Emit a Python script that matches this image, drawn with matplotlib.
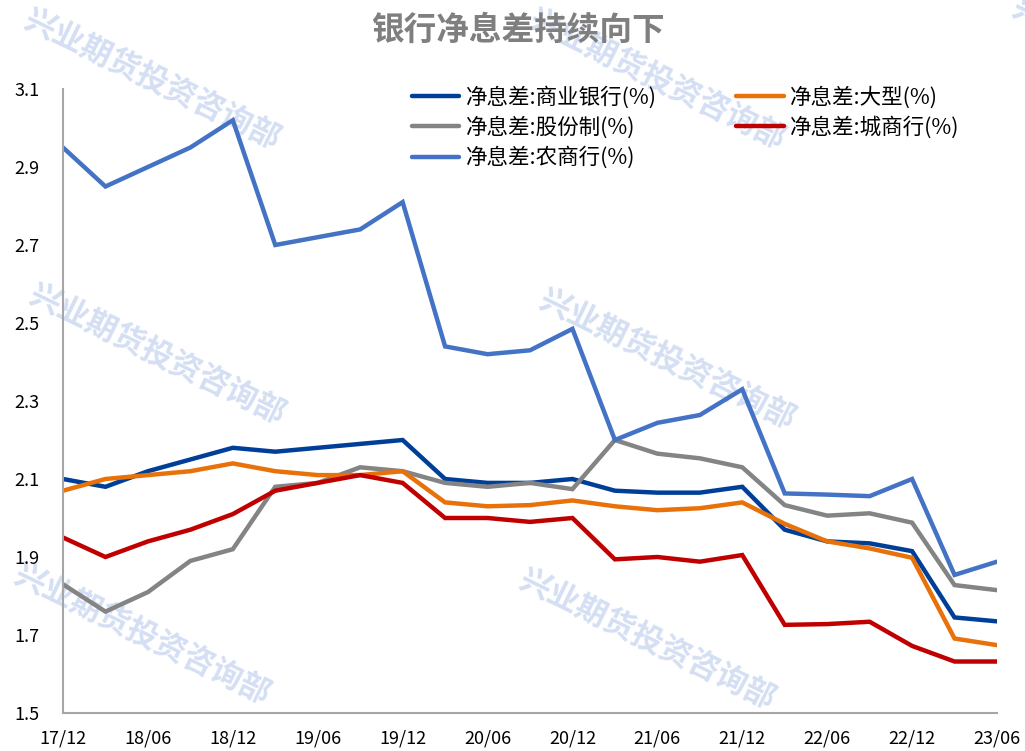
import numpy as np
import matplotlib
matplotlib.use("Agg")
import matplotlib.pyplot as plt

plt.rcParams['font.family'] = ['Noto Sans CJK SC', 'DejaVu Sans']

# quarterly, 17/12 .. 23/06
quarters = ["17/12", "18/03", "18/06", "18/09", "18/12", "19/03", "19/06", "19/09",
            "19/12", "20/03", "20/06", "20/09", "20/12", "21/03", "21/06", "21/09",
            "21/12", "22/03", "22/06", "22/09", "22/12", "23/03", "23/06"]

commercial = [2.10, 2.08, 2.12, 2.15, 2.18, 2.17, 2.18, 2.19, 2.20, 2.10, 2.09, 2.09,
              2.10, 2.07, 2.065, 2.065, 2.08, 1.97, 1.94, 1.935, 1.915, 1.745, 1.735]
large = [2.07, 2.10, 2.11, 2.12, 2.14, 2.12, 2.11, 2.11, 2.12, 2.04, 2.03, 2.033,
         2.045, 2.03, 2.02, 2.025, 2.04, 1.985, 1.94, 1.922, 1.898, 1.691, 1.674]
joint_stock = [1.83, 1.76, 1.81, 1.89, 1.92, 2.08, 2.09, 2.13, 2.12, 2.09, 2.08, 2.09,
               2.074, 2.20, 2.165, 2.153, 2.13, 2.033, 2.006, 2.012, 1.988, 1.828, 1.815]
city = [1.95, 1.90, 1.94, 1.97, 2.01, 2.07, 2.09, 2.11, 2.09, 2.00, 2.00, 1.99,
        2.00, 1.894, 1.90, 1.888, 1.905, 1.726, 1.728, 1.734, 1.672, 1.632, 1.632]
rural = [2.95, 2.85, 2.90, 2.95, 3.02, 2.70, 2.72, 2.74, 2.81, 2.44, 2.42, 2.43,
         2.485, 2.20, 2.244, 2.264, 2.33, 2.063, 2.06, 2.056, 2.10, 1.854, 1.888]

series = [
    ("净息差:商业银行(%)", commercial, "#003F98"),
    ("净息差:股份制(%)", joint_stock, "#848484"),
    ("净息差:农商行(%)", rural, "#4472C4"),
    ("净息差:大型(%)", large, "#E8710A"),
    ("净息差:城商行(%)", city, "#C00000"),
]

W, H = 1025, 751
fig = plt.figure(figsize=(W / 100, H / 100), dpi=100)

# watermark, behind everything (last one only peeks in at the top-right corner)
WM = "兴业期货投资咨询部"
for cx, cy in [(152, 80), (657, 80), (157, 355), (667, 360), (142, 635), (647, 640),
               (1140, 68)]:
    fig.text(cx / W, 1 - cy / H, WM, rotation=-26, fontsize=22.5, fontweight="bold",
             color="#D5DFF3", ha="center", va="center", zorder=-5)

ax = fig.add_axes([63 / W, (H - 713) / H, (997 - 63) / W, (713 - 89) / H])
ax.patch.set_alpha(0)
x = np.arange(len(quarters))
handles = []
for name, vals, c in series:
    h, = ax.plot(x, vals, color=c, lw=3.2, label=name, solid_joinstyle="miter",
                 solid_capstyle="round")
    handles.append(h)

ax.set_xlim(0, len(quarters) - 1)
ax.set_ylim(1.5, 3.1)
ax.set_yticks(np.arange(1.5, 3.11, 0.2))
ax.set_yticklabels([f"{v:.1f}" for v in np.arange(1.5, 3.11, 0.2)])
ax.set_xticks(x[::2])
ax.set_xticklabels(quarters[::2])
ax.tick_params(length=0, labelsize=13, colors="#000000")
ax.tick_params(axis="y", pad=17)
ax.tick_params(axis="x", pad=12)
for s in ["top", "right"]:
    ax.spines[s].set_visible(False)
for s in ["left", "bottom"]:
    ax.spines[s].set_color("#A6A6A6")
    ax.spines[s].set_linewidth(1.5)

fig.text(518 / W, 1 - 30 / H, "银行净息差持续向下", fontsize=23.5, fontweight="bold",
         color="#7F7F7F", ha="center", va="center")

fig.legend(handles=handles, loc="upper left", bbox_to_anchor=(412 / W, 1 - 86 / H),
           ncol=2, frameon=False, fontsize=15.5, handlelength=2.2, handletextpad=0.3,
           columnspacing=3.7, labelspacing=0.36, borderpad=0, borderaxespad=0)

fig.savefig("out.png", dpi=100)
